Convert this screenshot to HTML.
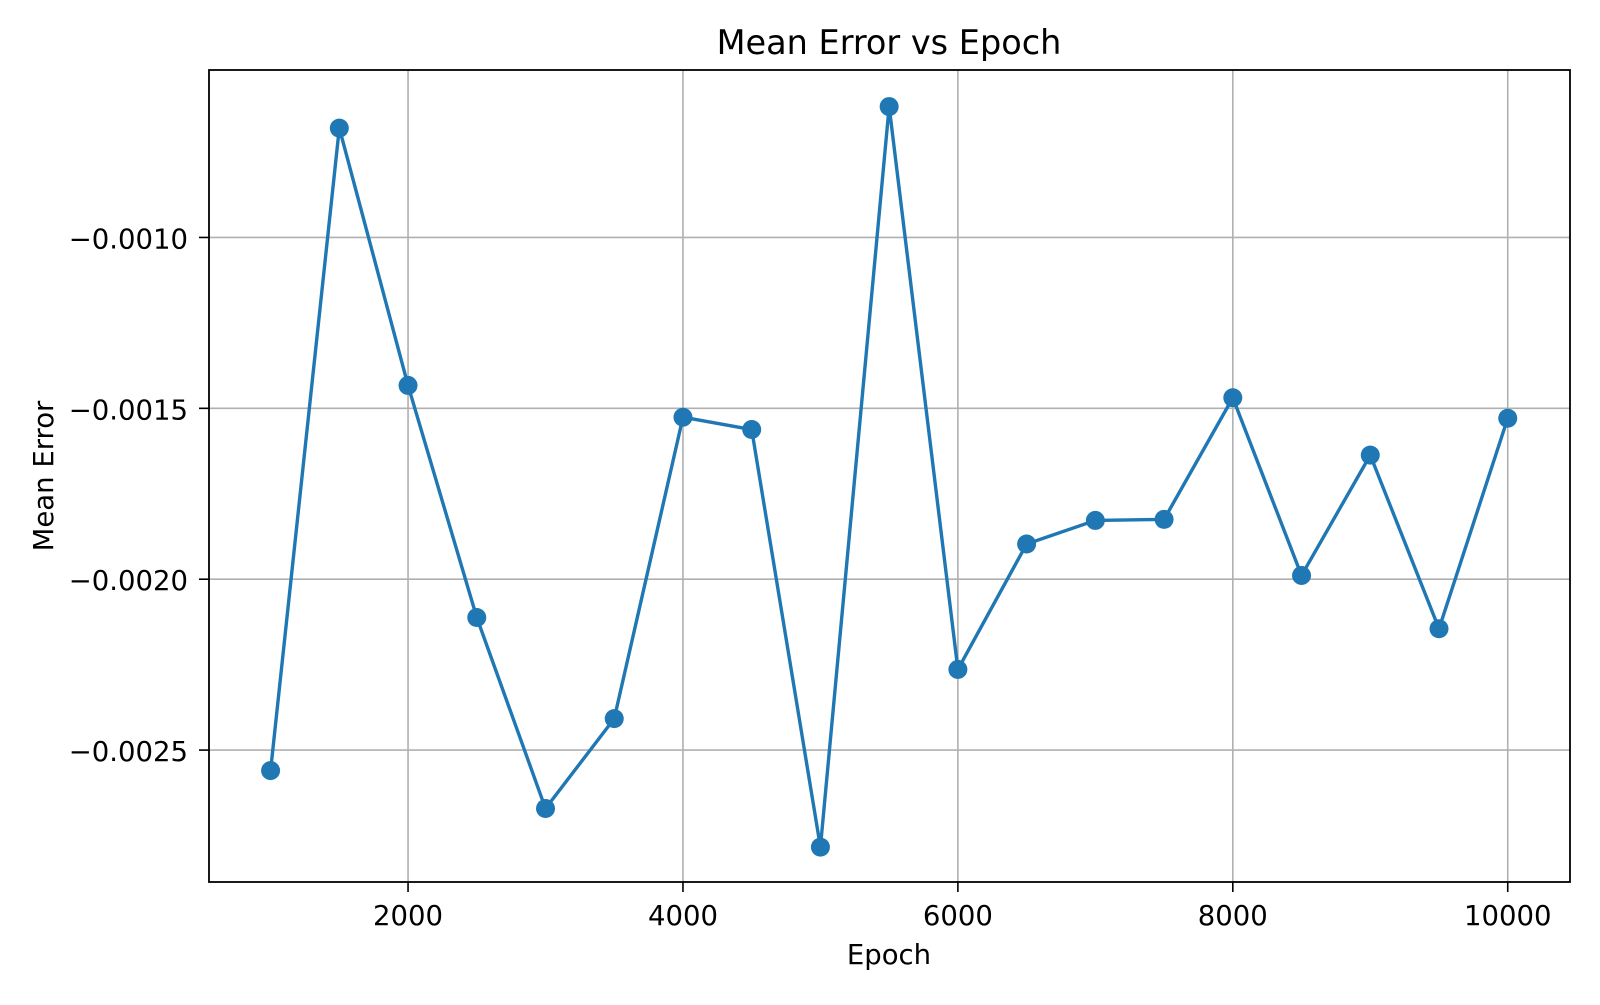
<!DOCTYPE html>
<html><head><meta charset="utf-8"><style>
body{margin:0;background:#fff;}
svg text{font-family:"DejaVu Sans","Liberation Sans",sans-serif;fill:#000;}
</style></head><body>
<svg id="chart" width="1600" height="1000" xmlns="http://www.w3.org/2000/svg">
<rect width="1600" height="1000" fill="#fff"/>
<g id="grid"></g>
<g id="series"></g>
<g id="axes"></g>
<text x="889" y="54" font-size="33.5" text-anchor="middle">Mean Error vs Epoch</text>
<text x="889" y="964" font-size="27.5" text-anchor="middle">Epoch</text>
<text transform="translate(53,476) rotate(-90)" font-size="27.5" text-anchor="middle">Mean Error</text>
</svg>
<script>
const epochs=[1000,1500,2000,2500,3000,3500,4000,4500,5000,5500,6000,6500,7000,7500,8000,8500,9000,9500,10000];
const meanError=[-0.002560,-0.000680,-0.001433,-0.002112,-0.002671,-0.002408,-0.001526,-0.001562,-0.002784,-0.000617,-0.002264,-0.001897,-0.001828,-0.001825,-0.001469,-0.001989,-0.001637,-0.002145,-0.001529];
const xTicks=[2000,4000,6000,8000,10000];
const yTicks=[-0.0010,-0.0015,-0.0020,-0.0025];
const yTickLabels=["\u22120.0010","\u22120.0015","\u22120.0020","\u22120.0025"];

const L=209,R=1570,T=70,B=882;
const xMin=552,xMax=10453,yMin=-0.002886,yMax=-0.000510;
const xs=v=>L+(v-xMin)/(xMax-xMin)*(R-L);
const ys=v=>B-(v-yMin)/(yMax-yMin)*(B-T);
const NS="http://www.w3.org/2000/svg";
function mk(tag,attrs,parent){const e=document.createElementNS(NS,tag);for(const k in attrs)e.setAttribute(k,attrs[k]);parent.appendChild(e);return e;}
const grid=document.getElementById('grid'),axes=document.getElementById('axes'),ser=document.getElementById('series');
xTicks.forEach(t=>{
 const x=xs(t);
 const g=mk('line',{x1:x,x2:x,y1:T,y2:B,stroke:'#b0b0b0','stroke-width':1.6},grid);
 
 
 const tk=mk('line',{x1:x,x2:x,y1:B,y2:B+10,stroke:'#000','stroke-width':1.6},axes);
 
 
 const tx=mk('text',{x:x,y:B+43,'font-size':27.5,'text-anchor':'middle'},axes);
 tx.textContent=t;
 
 
});
yTicks.forEach((t,i)=>{
 const y=ys(t);
 const g=mk('line',{x1:L,x2:R,y1:y,y2:y,stroke:'#b0b0b0','stroke-width':1.6},grid);
 
 
 const tk=mk('line',{x1:L-10,x2:L,y1:y,y2:y,stroke:'#000','stroke-width':1.6},axes);
 
 
 const tx=mk('text',{x:L-21,y:y+11,'font-size':27.5,'text-anchor':'end'},axes);
 tx.textContent=yTickLabels[i];
 
 
});
const frame=mk('rect',{x:L,y:T,width:R-L,height:B-T,fill:'none',stroke:'#000','stroke-width':1.8},axes);


const pts=epochs.map((e,i)=>xs(e)+','+ys(meanError[i])).join(' ');
const pl=mk('polyline',{points:pts,fill:'none',stroke:'#1f77b4','stroke-width':3.4,'stroke-linejoin':'round'},ser);


epochs.forEach((e,i)=>{
 const c=mk('circle',{cx:xs(e),cy:ys(meanError[i]),r:9.5,fill:'#1f77b4'},ser);
 
 
});
</script>
</body></html>
